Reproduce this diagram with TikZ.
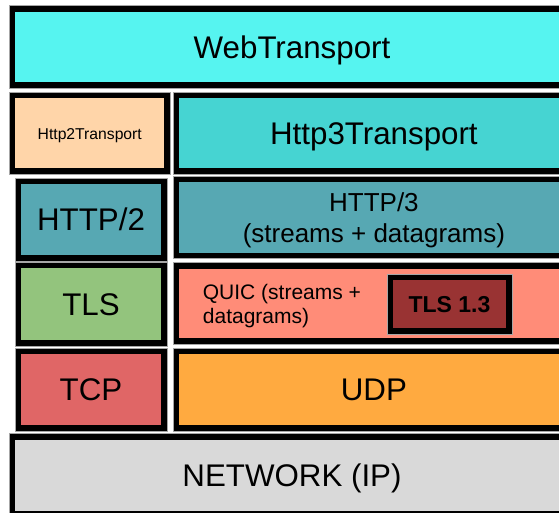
\documentclass[tikz,border=0pt]{standalone}
\usepackage{fontspec}
\setmainfont{Liberation Sans}
\definecolor{webcol}{HTML}{56F4F0}
\definecolor{h2tcol}{HTML}{FFD5A9}
\definecolor{h3tcol}{HTML}{46D4D2}
\definecolor{httpcol}{HTML}{57A8B3}
\definecolor{tlscol}{HTML}{93C47D}
\definecolor{quiccol}{HTML}{FF8C78}
\definecolor{tlsdark}{HTML}{993333}
\definecolor{tcpcol}{HTML}{E06666}
\definecolor{udpcol}{HTML}{FFAA40}
\definecolor{netcol}{HTML}{D9D9D9}
\begin{document}
\begin{tikzpicture}[x=1pt,y=-1pt,
  layer/.style={draw=black, line width=5.6pt, inner sep=0pt, outer sep=0pt, anchor=center, align=center},
  bigtext/.style={font=\fontsize{31.3}{37}\selectfont, text height=22.4pt, text depth=0pt},
  smalltext/.style={font=\fontsize{15.7}{19}\selectfont, text height=11.3pt, text depth=0pt},
  twoline/.style={font=\fontsize{26}{31}\selectfont, text height=49.6pt, text depth=0pt},
  quictext/.style={font=\fontsize{21}{24.2}\selectfont, text height=39.2pt, text depth=0pt, inner sep=0pt, align=left, anchor=north west},
  boldtext/.style={font=\fontsize{23}{28}\selectfont\bfseries, text height=16.5pt, text depth=0pt},
  rimline/.style={draw=black!35, line width=0.8pt}
]
\useasboundingbox (0,0) rectangle (559,512);
\fill[white] (0,0) rectangle (559,512);

% top layer
\node[layer, bigtext, fill=webcol, minimum width=559.4pt, minimum height=76.4pt] (web) at (292,47) {WebTransport};

% transport wrappers
\node[layer, smalltext, fill=h2tcol, minimum width=154.9pt, minimum height=75.7pt] (h2t) at (89.75,133.35) {Http2Transport};
\node[layer, bigtext, fill=h3tcol, minimum width=395.6pt, minimum height=75.7pt] (h3t) at (373.9,133.35) {Http3Transport};

% HTTP
\node[layer, bigtext, fill=httpcol, minimum width=145.8pt, minimum height=76.8pt] (http2) at (91,219.5) {HTTP/2};
\node[layer, twoline, fill=httpcol, minimum width=395.6pt, minimum height=76.2pt] (http3) at (373.9,217.4) {HTTP/3\\(streams + datagrams)};

% security / QUIC
\node[layer, bigtext, fill=tlscol, minimum width=145.8pt, minimum height=77.4pt] (tls) at (91,304.2) {TLS};
\node[layer, fill=quiccol, minimum width=395.6pt, minimum height=75.4pt] (quic) at (373.9,303.5) {};
\node[quictext] (quiclabel) at (202.7,284.3) {QUIC (streams +\\datagrams)};
\node[layer, boldtext, fill=tlsdark, minimum width=118.6pt, minimum height=53.9pt] (tls13) at (449.4,304.25) {TLS 1.3};

% transport
\node[layer, bigtext, fill=tcpcol, minimum width=145.8pt, minimum height=76.8pt] (tcp) at (91,389.5) {TCP};
\node[layer, bigtext, fill=udpcol, minimum width=395.6pt, minimum height=76.8pt] (udp) at (373.9,389.5) {UDP};

% network
\node[layer, bigtext, fill=netcol, minimum width=559.4pt, minimum height=77.4pt] (net) at (292,475.5) {NETWORK (IP)};

% thin outer rims
\foreach \n in {web,h2t,h3t,http2,http3,tls,quic,tls13,tcp,udp,net}
  \draw[rimline] ([shift={(-3.2pt,3.2pt)}]\n.north west) rectangle ([shift={(3.2pt,-3.2pt)}]\n.south east);
\end{tikzpicture}
\end{document}
